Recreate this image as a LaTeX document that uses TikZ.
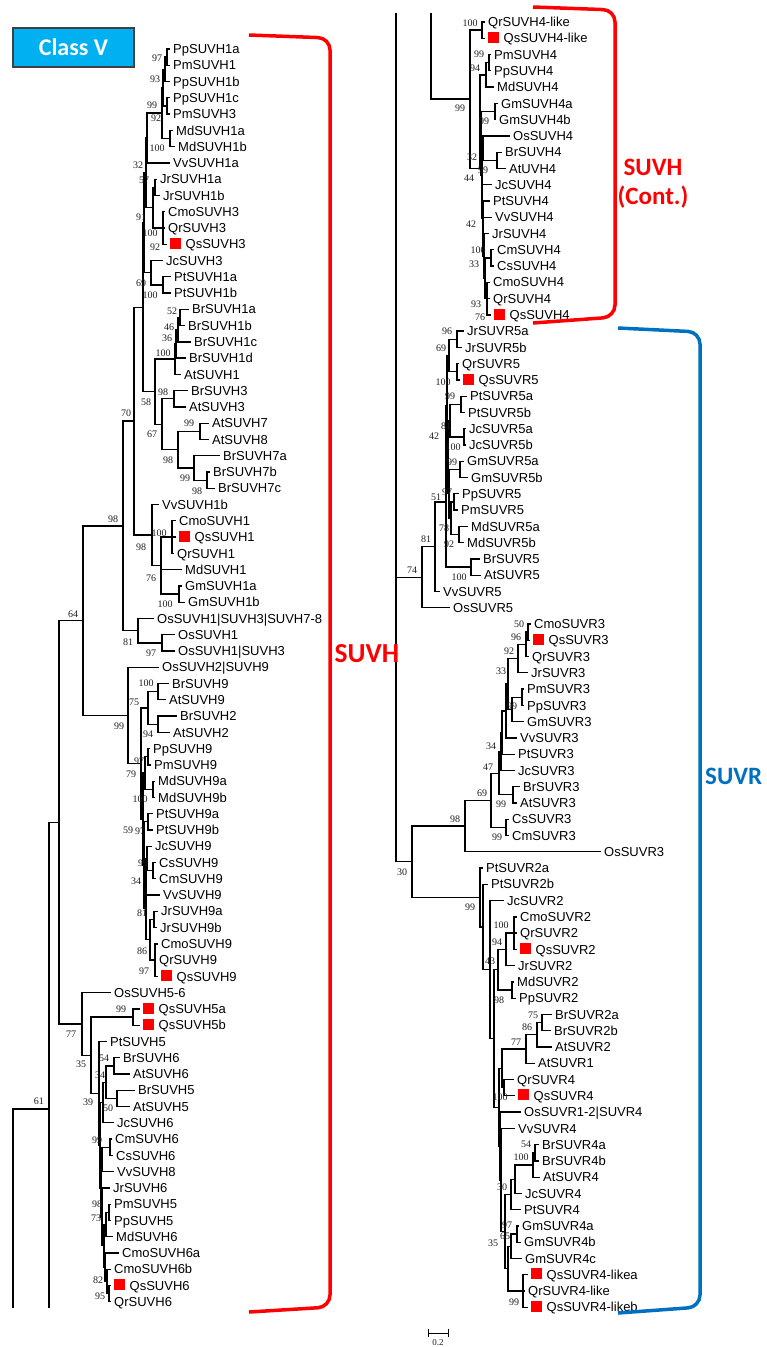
\documentclass[tikz,border=0pt]{standalone}
\usepackage{fontspec}
\setmainfont{Liberation Sans}
\newfontfamily\PBsFont{Liberation Serif}
\newfontfamily\PCal{Carlito}
\definecolor{qred}{RGB}{255,0,0}
\definecolor{suvrblue}{RGB}{0,112,192}
\definecolor{classcyan}{RGB}{0,176,240}
\newcommand\PLy[1]{32.73+16.27*(#1)}
\newcommand\PRy[1]{5.73+16.27*(#1)}
\newcommand\PQs{\textcolor{qred}{\rule{11pt}{11pt}}\hspace{4.5pt}}
\newcounter{pbsc}
\newcommand\PLleaf[4]{\coordinate (#1) at (#2,{\PLy{#3}}); \node[lf] (t#1) at ([xshift=3pt]#1) {#4};}
\newcommand\PRleaf[4]{\coordinate (#1) at (#2,{\PRy{#3}}); \node[lf] (t#1) at ([xshift=3pt]#1) {#4};}
\newcommand\PLnode[3]{\coordinate (#1) at (#2,{\PLy{#3}});}
\newcommand\PRnode[3]{\coordinate (#1) at (#2,{\PRy{#3}});}
\newcommand\PKids[2]{\foreach \kid in {#2}{\draw[br] (#1) |- (\kid);}}
\newcommand\PBs[3]{\stepcounter{pbsc}\node[bsl] (bs\arabic{pbsc}) at (#1,#2) {#3};}
\begin{document}
\begin{tikzpicture}[x=1pt,y=-1pt,
  br/.style={line width=1.3pt, black},
  lf/.style={anchor=west, inner sep=0pt, text height=9.3pt, text depth=0pt, font=\fontsize{13}{13}\selectfont},
  bsl/.style={inner sep=0pt, font=\PBsFont\fontsize{10}{10}\selectfont, text=black!88},
  bigred/.style={text=qred, inner sep=0pt, anchor=base},
  bracket/.style={line width=3.5pt, rounded corners=12pt}]
\useasboundingbox (0,0) rectangle (766,1347);

% ---------- Class V box ----------
\node[draw=black!75, line width=1.2pt, fill=classcyan, text=white, font=\PCal\bfseries\fontsize{24}{24}\selectfont, minimum width=121pt, minimum height=39pt, inner sep=0pt] (classv) at (73.5,47.5) {Class V};

% ---------- LEFT leaves ----------
\PLleaf{L1}{170}{1}{PpSUVH1a}
\PLleaf{L2}{170}{2}{PmSUVH1}
\PLleaf{L3}{170}{3}{PpSUVH1b}
\PLleaf{L4}{170}{4}{PpSUVH1c}
\PLleaf{L5}{170}{5}{PmSUVH3}
\PLleaf{L6}{173}{6}{MdSUVH1a}
\PLleaf{L7}{175}{7}{MdSUVH1b}
\PLleaf{L8}{170}{8}{VvSUVH1a}
\PLleaf{L9}{157}{9}{JrSUVH1a}
\PLleaf{L10}{160}{10}{JrSUVH1b}
\PLleaf{L11}{165}{11}{CmoSUVH3}
\PLleaf{L12}{165}{12}{QrSUVH3}
\PLleaf{L13}{167}{13}{\PQs QsSUVH3}
\PLleaf{L14}{163}{14}{JcSUVH3}
\PLleaf{L15}{171}{15}{PtSUVH1a}
\PLleaf{L16}{171}{16}{PtSUVH1b}
\PLleaf{L17}{189}{17}{BrSUVH1a}
\PLleaf{L18}{185}{18}{BrSUVH1b}
\PLleaf{L19}{191}{19}{BrSUVH1c}
\PLleaf{L20}{186}{20}{BrSUVH1d}
\PLleaf{L21}{181}{21}{AtSUVH1}
\PLleaf{L22}{188}{22}{BrSUVH3}
\PLleaf{L23}{186}{23}{AtSUVH3}
\PLleaf{L24}{209}{24}{AtSUVH7}
\PLleaf{L25}{209}{25}{AtSUVH8}
\PLleaf{L26}{220}{26}{BrSUVH7a}
\PLleaf{L27}{210}{27}{BrSUVH7b}
\PLleaf{L28}{215}{28}{BrSUVH7c}
\PLleaf{L29}{159}{29}{VvSUVH1b}
\PLleaf{L30}{176}{30}{CmoSUVH1}
\PLleaf{L31}{176}{31}{\PQs QsSUVH1}
\PLleaf{L32}{174}{32}{QrSUVH1}
\PLleaf{L33}{182}{33}{MdSUVH1}
\PLleaf{L34}{182}{34}{GmSUVH1a}
\PLleaf{L35}{185}{35}{GmSUVH1b}
\PLleaf{L36}{154}{36}{OsSUVH1|SUVH3|SUVH7-8}
\PLleaf{L37}{175}{37}{OsSUVH1}
\PLleaf{L38}{175}{38}{OsSUVH1|SUVH3}
\PLleaf{L39}{159}{39}{OsSUVH2|SUVH9}
\PLleaf{L40}{169}{40}{BrSUVH9}
\PLleaf{L41}{166}{41}{AtSUVH9}
\PLleaf{L42}{177}{42}{BrSUVH2}
\PLleaf{L43}{170}{43}{AtSUVH2}
\PLleaf{L44}{150}{44}{PpSUVH9}
\PLleaf{L45}{151}{45}{PmSUVH9}
\PLleaf{L46}{155}{46}{MdSUVH9a}
\PLleaf{L47}{155}{47}{MdSUVH9b}
\PLleaf{L48}{153}{48}{PtSUVH9a}
\PLleaf{L49}{153}{49}{PtSUVH9b}
\PLleaf{L50}{152}{50}{JcSUVH9}
\PLleaf{L51}{156}{51}{CsSUVH9}
\PLleaf{L52}{156}{52}{CmSUVH9}
\PLleaf{L53}{160}{53}{VvSUVH9}
\PLleaf{L54}{158}{54}{JrSUVH9a}
\PLleaf{L55}{157}{55}{JrSUVH9b}
\PLleaf{L56}{158}{56}{CmoSUVH9}
\PLleaf{L57}{156}{57}{QrSUVH9}
\PLleaf{L58}{158}{58}{\PQs QsSUVH9}
\PLleaf{L59}{111}{59}{OsSUVH5-6}
\PLleaf{L60}{140}{60}{\PQs QsSUVH5a}
\PLleaf{L61}{140}{61}{\PQs QsSUVH5b}
\PLleaf{L62}{107}{62}{PtSUVH5}
\PLleaf{L63}{120}{63}{BrSUVH6}
\PLleaf{L64}{130}{64}{AtSUVH6}
\PLleaf{L65}{135}{65}{BrSUVH5}
\PLleaf{L66}{130}{66}{AtSUVH5}
\PLleaf{L67}{114}{67}{JcSUVH6}
\PLleaf{L68}{112}{68}{CmSUVH6}
\PLleaf{L69}{113}{69}{CsSUVH6}
\PLleaf{L70}{114}{70}{VvSUVH8}
\PLleaf{L71}{110}{71}{JrSUVH6}
\PLleaf{L72}{111}{72}{PmSUVH5}
\PLleaf{L73}{111}{73}{PpSUVH5}
\PLleaf{L74}{113}{74}{MdSUVH6}
\PLleaf{L75}{119}{75}{CmoSUVH6a}
\PLleaf{L76}{111}{76}{CmoSUVH6b}
\PLleaf{L77}{111}{77}{\PQs QsSUVH6}
\PLleaf{L78}{111}{78}{QrSUVH6}

% ---------- LEFT internal nodes ----------
\PLnode{nP97}{167}{1.5}
\PLnode{nP93}{165}{2.25}
\PLnode{nP92}{167}{4.5}
\PLnode{nPP}{163}{3.375}
\PLnode{nMd}{170}{6.5}
\PLnode{nA}{162}{4.94}
\PLnode{n32}{147}{6.47}
\PLnode{nJr}{155}{9.5}
\PLnode{nQ3}{163}{12}
\PLnode{nJrQ}{153}{10.75}
\PLnode{nB}{146}{8.61}
\PLnode{nPt}{163}{15.5}
\PLnode{nJcPt}{151}{14.75}
\PLnode{nC}{144}{11.68}
\PLnode{nBr52}{180}{17.5}
\PLnode{nBr46}{178}{18.25}
\PLnode{nBr36}{176}{19.125}
\PLnode{nBr1}{175}{20.06}
\PLnode{nBA3}{174}{22.5}
\PLnode{nAt78}{200}{24.5}
\PLnode{nBr7bc}{207}{27.5}
\PLnode{nBr7}{194}{26.75}
\PLnode{n98s}{178}{25.625}
\PLnode{n67}{162}{24.06}
\PLnode{n58}{155}{22.06}
\PLnode{nD}{143}{16.87}
\PLnode{nQ1}{172}{31}
\PLnode{nGm}{179}{34.5}
\PLnode{nX}{161}{32.75}
\PLnode{n98v}{152}{30.875}
\PLnode{n70}{134}{23.87}
\PLnode{nOs1}{162}{37.5}
\PLnode{n81}{138}{36.75}
\PLnode{n98}{123}{30.31}
\PLnode{nBA9}{158}{40.5}
\PLnode{nBA2}{158}{42.5}
\PLnode{nBrAt}{148}{41.5}
\PLnode{nPp9}{148}{44.5}
\PLnode{nMd9}{153}{46.5}
\PLnode{nRos}{145}{45.5}
\PLnode{nPt9}{148}{48.5}
\PLnode{nCsCm}{153}{51.5}
\PLnode{nJcCs}{147}{50.75}
\PLnode{nJcVv}{146}{51.875}
\PLnode{nJr9}{154}{54.5}
\PLnode{nQ9}{155}{57}
\PLnode{nJrQ9}{150}{55.75}
\PLnode{nF1}{146}{53.81}
\PLnode{nF2}{144}{51.16}
\PLnode{nF3}{143}{48.33}
\PLnode{nS9}{141}{44.91}
\PLnode{n99}{128}{41.96}
\PLnode{n64}{83}{36.13}
\PLnode{n5a}{133}{60.5}
\PLnode{nBA6}{114}{63.5}
\PLnode{nBA5}{117}{65.5}
\PLnode{nBA}{106}{64.5}
\PLnode{nBAJc}{103}{65.75}
\PLnode{nCC6}{110}{68.5}
\PLnode{nCCV}{102}{69.25}
\PLnode{nPP5}{109}{72.5}
\PLnode{nPPM}{106}{73.25}
\PLnode{nQQ}{109}{77.5}
\PLnode{nCQ}{107}{76.75}
\PLnode{nCmo}{105}{75.875}
\PLnode{nRos6}{104}{74.56}
\PLnode{nJrR}{102}{72.78}
\PLnode{nM1}{101}{71.02}
\PLnode{nM2}{100}{68.38}
\PLnode{nM3}{99}{65.19}
\PLnode{n35}{91}{62.84}
\PLnode{n77}{82}{60.92}
\PLnode{n59}{59}{48.52}
\coordinate (n49) at (49,1109);
\coordinate (nLb49) at (49,1308);
\coordinate (nLb13) at (13,1308);

% ---------- LEFT edges ----------
\PKids{nP97}{L1,L2}
\PKids{nP93}{nP97,L3}
\PKids{nP92}{L4,L5}
\PKids{nPP}{nP93,nP92}
\PKids{nMd}{L6,L7}
\PKids{nA}{nPP,nMd}
\PKids{n32}{nA,L8}
\PKids{nJr}{L9,L10}
\PKids{nQ3}{L11,L12,L13}
\PKids{nJrQ}{nJr,nQ3}
\PKids{nB}{n32,nJrQ}
\PKids{nPt}{L15,L16}
\PKids{nJcPt}{L14,nPt}
\PKids{nC}{nB,nJcPt}
\PKids{nBr52}{L17,L18}
\PKids{nBr46}{nBr52,L19}
\PKids{nBr36}{nBr46,L20}
\PKids{nBr1}{nBr36,L21}
\PKids{nBA3}{L22,L23}
\PKids{nAt78}{L24,L25}
\PKids{nBr7bc}{L27,L28}
\PKids{nBr7}{L26,nBr7bc}
\PKids{n98s}{nAt78,nBr7}
\PKids{n67}{nBA3,n98s}
\PKids{n58}{nBr1,n67}
\PKids{nD}{nC,n58}
\PKids{nQ1}{L30,L31,L32}
\PKids{nGm}{L34,L35}
\PKids{nX}{nQ1,L33,nGm}
\PKids{n98v}{L29,nX}
\PKids{n70}{nD,n98v}
\PKids{nOs1}{L37,L38}
\PKids{n81}{L36,nOs1}
\PKids{n98}{n70,n81}
\PKids{nBA9}{L40,L41}
\PKids{nBA2}{L42,L43}
\PKids{nBrAt}{nBA9,nBA2}
\PKids{nPp9}{L44,L45}
\PKids{nMd9}{L46,L47}
\PKids{nRos}{nPp9,nMd9}
\PKids{nPt9}{L48,L49}
\PKids{nCsCm}{L51,L52}
\PKids{nJcCs}{L50,nCsCm}
\PKids{nJcVv}{nJcCs,L53}
\PKids{nJr9}{L54,L55}
\PKids{nQ9}{L56,L57,L58}
\PKids{nJrQ9}{nJr9,nQ9}
\PKids{nF1}{nJcVv,nJrQ9}
\PKids{nF2}{nPt9,nF1}
\PKids{nF3}{nRos,nF2}
\PKids{nS9}{nBrAt,nF3}
\PKids{n99}{L39,nS9}
\PKids{n64}{n98,n99}
\PKids{n5a}{L60,L61}
\PKids{nBA6}{L63,L64}
\PKids{nBA5}{L65,L66}
\PKids{nBA}{nBA6,nBA5}
\PKids{nBAJc}{nBA,L67}
\PKids{nCC6}{L68,L69}
\PKids{nCCV}{nCC6,L70}
\PKids{nPP5}{L72,L73}
\PKids{nPPM}{nPP5,L74}
\PKids{nQQ}{L77,L78}
\PKids{nCQ}{L76,nQQ}
\PKids{nCmo}{L75,nCQ}
\PKids{nRos6}{nPPM,nCmo}
\PKids{nJrR}{L71,nRos6}
\PKids{nM1}{nCCV,nJrR}
\PKids{nM2}{nBAJc,nM1}
\PKids{nM3}{L62,nM2}
\PKids{n35}{n5a,nM3}
\PKids{n77}{L59,n35}
\PKids{n59}{n64,n77}
\PKids{nLb49}{n59}
\PKids{nLb13}{n49}

% ---------- RIGHT leaves ----------
\PRleaf{R1}{485}{1}{QrSUVH4-like}
\PRleaf{R2}{485}{2}{\PQs QsSUVH4-like}
\PRleaf{R3}{491}{3}{PmSUVH4}
\PRleaf{R4}{491}{4}{PpSUVH4}
\PRleaf{R5}{494}{5}{MdSUVH4}
\PRleaf{R6}{498}{6}{GmSUVH4a}
\PRleaf{R7}{496}{7}{GmSUVH4b}
\PRleaf{R8}{510}{8}{OsSUVH4}
\PRleaf{R9}{502}{9}{BrSUVH4}
\PRleaf{R10}{506}{10}{AtUVH4}
\PRleaf{R11}{492}{11}{JcSUVH4}
\PRleaf{R12}{490}{12}{PtSUVH4}
\PRleaf{R13}{492}{13}{VvSUVH4}
\PRleaf{R14}{489}{14}{JrSUVH4}
\PRleaf{R15}{494}{15}{CmSUVH4}
\PRleaf{R16}{494}{16}{CsSUVH4}
\PRleaf{R17}{490}{17}{CmoSUVH4}
\PRleaf{R18}{490}{18}{QrSUVH4}
\PRleaf{R19}{491}{19}{\PQs QsSUVH4}
\PRleaf{R20}{464}{20}{JrSUVR5a}
\PRleaf{R21}{462}{21}{JrSUVR5b}
\PRleaf{R22}{459}{22}{QrSUVR5}
\PRleaf{R23}{460}{23}{\PQs QsSUVR5}
\PRleaf{R24}{467}{24}{PtSUVR5a}
\PRleaf{R25}{465}{25}{PtSUVR5b}
\PRleaf{R26}{466}{26}{JcSUVR5a}
\PRleaf{R27}{466}{27}{JcSUVR5b}
\PRleaf{R28}{464}{28}{GmSUVR5a}
\PRleaf{R29}{468}{29}{GmSUVR5b}
\PRleaf{R30}{459}{30}{PpSUVR5}
\PRleaf{R31}{458}{31}{PmSUVR5}
\PRleaf{R32}{468}{32}{MdSUVR5a}
\PRleaf{R33}{464}{33}{MdSUVR5b}
\PRleaf{R34}{480}{34}{BrSUVR5}
\PRleaf{R35}{481}{35}{AtSUVR5}
\PRleaf{R36}{440}{36}{VvSUVR5}
\PRleaf{R37}{450}{37}{OsSUVR5}
\PRleaf{R38}{531}{38}{CmoSUVR3}
\PRleaf{R39}{530}{39}{\PQs QsSUVR3}
\PRleaf{R40}{529}{40}{QrSUVR3}
\PRleaf{R41}{528}{41}{JrSUVR3}
\PRleaf{R42}{524}{42}{PmSUVR3}
\PRleaf{R43}{524}{43}{PpSUVR3}
\PRleaf{R44}{524}{44}{GmSUVR3}
\PRleaf{R45}{517}{45}{VvSUVR3}
\PRleaf{R46}{515}{46}{PtSUVR3}
\PRleaf{R47}{515}{47}{JcSUVR3}
\PRleaf{R48}{520}{48}{BrSUVR3}
\PRleaf{R49}{517}{49}{AtSUVR3}
\PRleaf{R50}{509}{50}{CsSUVR3}
\PRleaf{R51}{509}{51}{CmSUVR3}
\PRleaf{R52}{601}{52}{OsSUVR3}
\PRleaf{R53}{483}{53}{PtSUVR2a}
\PRleaf{R54}{488}{54}{PtSUVR2b}
\PRleaf{R55}{504}{55}{JcSUVR2}
\PRleaf{R56}{517}{56}{CmoSUVR2}
\PRleaf{R57}{517}{57}{QrSUVR2}
\PRleaf{R58}{517}{58}{\PQs QsSUVR2}
\PRleaf{R59}{515}{59}{JrSUVR2}
\PRleaf{R60}{514}{60}{MdSUVR2}
\PRleaf{R61}{516}{61}{PpSUVR2}
\PRleaf{R62}{552}{62}{BrSUVR2a}
\PRleaf{R63}{551}{63}{BrSUVR2b}
\PRleaf{R64}{552}{64}{AtSUVR2}
\PRleaf{R65}{535}{65}{AtSUVR1}
\PRleaf{R66}{514}{66}{QrSUVR4}
\PRleaf{R67}{515}{67}{\PQs QsSUVR4}
\PRleaf{R68}{521}{68}{OsSUVR1-2|SUVR4}
\PRleaf{R69}{515}{69}{VvSUVR4}
\PRleaf{R70}{539}{70}{BrSUVR4a}
\PRleaf{R71}{539}{71}{BrSUVR4b}
\PRleaf{R72}{540}{72}{AtSUVR4}
\PRleaf{R73}{522}{73}{JcSUVR4}
\PRleaf{R74}{521}{74}{PtSUVR4}
\PRleaf{R75}{519}{75}{GmSUVR4a}
\PRleaf{R76}{521}{76}{GmSUVR4b}
\PRleaf{R77}{522}{77}{GmSUVR4c}
\PRleaf{R78}{528}{78}{\PQs QsSUVR4-likea}
\PRleaf{R79}{525}{79}{QrSUVR4-like}
\PRleaf{R80}{528}{80}{\PQs QsSUVR4-likeb}

% ---------- RIGHT internal nodes ----------
\PRnode{nQL}{482}{1.5}
\PRnode{nPmPp}{489}{3.5}
\PRnode{nPPM4}{486}{4.25}
\PRnode{nGm4r}{495}{6.5}
\PRnode{nBA4}{497}{9.5}
\PRnode{nOsBA}{483}{8.75}
\PRnode{nCC4}{491}{15.5}
\PRnode{nQ4}{487}{18}
\PRnode{nCCQ}{485}{16.75}
\PRnode{nJrC}{484}{15.375}
\PRnode{nVvJ}{483}{14.19}
\PRnode{nPtV}{483}{13.09}
\PRnode{nJcP}{482}{12.05}
\PRnode{nG1}{482}{10.4}
\PRnode{nG2}{481}{8.45}
\PRnode{nG3}{480}{10}
\PRnode{n99r4}{470}{5.73}
\PRnode{nJr5}{457}{20.5}
\PRnode{nQ5}{457}{22.5}
\PRnode{nJQ5}{449}{21.5}
\PRnode{nPt5r}{461}{24.5}
\PRnode{nJc5}{464}{26.5}
\PRnode{nPJ5}{450}{25.5}
\PRnode{nGm5}{460}{28.5}
\PRnode{nPP5r}{454}{30.5}
\PRnode{nMd5}{459}{32.5}
\PRnode{nRos5}{451}{31.5}
\PRnode{nK1}{449}{30}
\PRnode{nK2}{448}{27.75}
\PRnode{nK3}{447}{24.6}
\PRnode{nBA5r}{471}{34.5}
\PRnode{n51}{446}{30.5}
\PRnode{n81r}{435}{33.25}
\PRnode{n74r}{422}{35.125}
\PRnode{nCQs}{528}{38.5}
\PRnode{nQ3r}{526}{39.25}
\PRnode{nJrQ3}{518}{40.125}
\PRnode{nPP3}{522}{42.5}
\PRnode{nR3}{512}{43.25}
\PRnode{nR3b}{508}{41.69}
\PRnode{nR3c}{506}{43.34}
\PRnode{nR3d}{502}{44.67}
\PRnode{nR3e}{501}{45.84}
\PRnode{nBA3r}{513}{48.5}
\PRnode{nR3f}{499}{47.17}
\PRnode{nCC3}{506}{50.5}
\PRnode{n69r}{491}{48.84}
\PRnode{n98r}{465}{50.42}
\PRnode{nQ2}{514}{57}
\PRnode{nQJ2}{506}{58}
\PRnode{nMP2}{512}{60.5}
\PRnode{nE1}{498}{59.25}
\PRnode{nBr2}{542}{62.5}
\PRnode{nBA2r}{537}{63.25}
\PRnode{nAt1}{526}{64.125}
\PRnode{nQ4r}{504}{66.5}
\PRnode{nAtQ}{502}{65.31}
\PRnode{nBr4ab}{535}{70.5}
\PRnode{nBA4r}{533}{71.25}
\PRnode{nJc4r}{515}{72.125}
\PRnode{nPt4r}{511}{73.06}
\PRnode{nGm4ab}{517}{75.5}
\PRnode{nGm4}{511}{76.25}
\PRnode{nQL4}{523}{79}
\PRnode{nF1r}{508}{77.625}
\PRnode{nR2h}{505}{75.34}
\PRnode{nR2g}{501}{72.17}
\PRnode{nR2f}{500}{70.09}
\PRnode{nR2e}{499}{67.7}
\PRnode{nR2d}{494}{63.47}
\PRnode{nR2c}{490}{59.24}
\PRnode{nR2b}{483}{56.62}
\PRnode{nR2a}{480}{54.81}
\PRnode{n30r}{412}{52.6}
\coordinate (nRt13) at (396,13);
\coordinate (nRt49) at (431,13);

% ---------- RIGHT edges ----------
\PKids{nQL}{R1,R2}
\PKids{nPmPp}{R3,R4}
\PKids{nPPM4}{nPmPp,R5}
\PKids{nGm4r}{R6,R7}
\PKids{nBA4}{R9,R10}
\PKids{nOsBA}{R8,nBA4}
\PKids{nCC4}{R15,R16}
\PKids{nQ4}{R17,R18,R19}
\PKids{nCCQ}{nCC4,nQ4}
\PKids{nJrC}{R14,nCCQ}
\PKids{nVvJ}{R13,nJrC}
\PKids{nPtV}{R12,nVvJ}
\PKids{nJcP}{R11,nPtV}
\PKids{nG1}{nOsBA,nJcP}
\PKids{nG2}{nGm4r,nG1}
\PKids{nG3}{nPPM4,nG2}
\PKids{n99r4}{nQL,nG3}
\PKids{nRt49}{n99r4}
\PKids{nJr5}{R20,R21}
\PKids{nQ5}{R22,R23}
\PKids{nJQ5}{nJr5,nQ5}
\PKids{nPt5r}{R24,R25}
\PKids{nJc5}{R26,R27}
\PKids{nPJ5}{nPt5r,nJc5}
\PKids{nGm5}{R28,R29}
\PKids{nPP5r}{R30,R31}
\PKids{nMd5}{R32,R33}
\PKids{nRos5}{nPP5r,nMd5}
\PKids{nK1}{nGm5,nRos5}
\PKids{nK2}{nPJ5,nK1}
\PKids{nK3}{nJQ5,nK2}
\PKids{nBA5r}{R34,R35}
\PKids{n51}{nK3,nBA5r}
\PKids{n81r}{n51,R36}
\PKids{n74r}{n81r,R37}
\PKids{nCQs}{R38,R39}
\PKids{nQ3r}{nCQs,R40}
\PKids{nJrQ3}{nQ3r,R41}
\PKids{nPP3}{R42,R43}
\PKids{nR3}{nPP3,R44}
\PKids{nR3b}{nJrQ3,nR3}
\PKids{nR3c}{nR3b,R45}
\PKids{nR3d}{nR3c,R46}
\PKids{nR3e}{nR3d,R47}
\PKids{nBA3r}{R48,R49}
\PKids{nR3f}{nR3e,nBA3r}
\PKids{nCC3}{R50,R51}
\PKids{n69r}{nR3f,nCC3}
\PKids{n98r}{n69r,R52}
\PKids{nQ2}{R56,R57,R58}
\PKids{nQJ2}{nQ2,R59}
\PKids{nMP2}{R60,R61}
\PKids{nE1}{nQJ2,nMP2}
\PKids{nBr2}{R62,R63}
\PKids{nBA2r}{nBr2,R64}
\PKids{nAt1}{nBA2r,R65}
\PKids{nQ4r}{R66,R67}
\PKids{nAtQ}{nAt1,nQ4r}
\PKids{nBr4ab}{R70,R71}
\PKids{nBA4r}{nBr4ab,R72}
\PKids{nJc4r}{nBA4r,R73}
\PKids{nPt4r}{nJc4r,R74}
\PKids{nGm4ab}{R75,R76}
\PKids{nGm4}{nGm4ab,R77}
\PKids{nQL4}{R78,R79,R80}
\PKids{nF1r}{nGm4,nQL4}
\PKids{nR2h}{nPt4r,nF1r}
\PKids{nR2g}{R69,nR2h}
\PKids{nR2f}{R68,nR2g}
\PKids{nR2e}{nAtQ,nR2f}
\PKids{nR2d}{nE1,nR2e}
\PKids{nR2c}{R55,nR2d}
\PKids{nR2b}{R54,nR2c}
\PKids{nR2a}{R53,nR2b}
\PKids{n30r}{n98r,nR2a}
\PKids{nRt13}{n74r,n30r}

% ---------- bootstrap values, left ----------
\PBs{157}{58}{97}
\PBs{155}{79}{93}
\PBs{152}{105}{99}
\PBs{156}{118}{92}
\PBs{157}{148}{100}
\PBs{138}{165}{32}
\PBs{144}{180}{57}
\PBs{141}{217}{91}
\PBs{150}{233}{100}
\PBs{155}{247}{92}
\PBs{141}{283}{69}
\PBs{150}{295}{100}
\PBs{172}{311}{52}
\PBs{169}{327}{46}
\PBs{167}{338}{36}
\PBs{163}{353}{100}
\PBs{163}{392}{98}
\PBs{146}{402}{58}
\PBs{126}{413}{70}
\PBs{152}{434}{67}
\PBs{189}{423}{99}
\PBs{168}{460}{98}
\PBs{185}{478}{99}
\PBs{197}{491}{98}
\PBs{113}{519}{98}
\PBs{159}{533}{100}
\PBs{141}{547}{98}
\PBs{151}{578}{76}
\PBs{165}{604}{100}
\PBs{73}{614}{64}
\PBs{128}{642}{81}
\PBs{151}{653}{97}
\PBs{146}{683}{100}
\PBs{134}{702}{75}
\PBs{119}{726}{99}
\PBs{148}{734}{94}
\PBs{139}{761}{97}
\PBs{131}{774}{79}
\PBs{140}{799}{100}
\PBs{128}{830}{59}
\PBs{140}{831}{97}
\PBs{143}{863}{99}
\PBs{136}{881}{34}
\PBs{142}{913}{81}
\PBs{142}{951}{86}
\PBs{144}{971}{97}
\PBs{121}{1009}{99}
\PBs{71}{1034}{77}
\PBs{104}{1058}{54}
\PBs{81}{1064}{35}
\PBs{100}{1075}{34}
\PBs{88}{1102}{39}
\PBs{108}{1108}{50}
\PBs{39}{1101}{61}
\PBs{97}{1140}{99}
\PBs{97}{1204}{98}
\PBs{96}{1218}{73}
\PBs{98}{1280}{82}
\PBs{100}{1296}{95}

% ---------- bootstrap values, right ----------
\PBs{470}{23}{100}
\PBs{479}{54}{99}
\PBs{475}{68}{94}
\PBs{460}{108}{99}
\PBs{484}{121}{99}
\PBs{472}{157}{32}
\PBs{483}{170}{99}
\PBs{469}{178}{44}
\PBs{471}{224}{42}
\PBs{478}{250}{100}
\PBs{474}{264}{33}
\PBs{476}{304}{93}
\PBs{480}{317}{76}
\PBs{447}{331}{96}
\PBs{441}{348}{69}
\PBs{443}{382}{100}
\PBs{450}{396}{99}
\PBs{434}{436}{42}
\PBs{446}{426}{81}
\PBs{453}{447}{100}
\PBs{452}{462}{99}
\PBs{436}{497}{51}
\PBs{447}{492}{97}
\PBs{444}{528}{78}
\PBs{426}{539}{81}
\PBs{449}{544}{92}
\PBs{412}{570}{74}
\PBs{459}{577}{100}
\PBs{519}{624}{50}
\PBs{516}{637}{96}
\PBs{509}{651}{92}
\PBs{501}{671}{33}
\PBs{512}{706}{99}
\PBs{491}{746}{34}
\PBs{488}{767}{47}
\PBs{482}{793}{69}
\PBs{501}{804}{99}
\PBs{455}{819}{98}
\PBs{497}{837}{99}
\PBs{402}{872}{30}
\PBs{470}{907}{99}
\PBs{501}{925}{100}
\PBs{497}{942}{94}
\PBs{490}{961}{43}
\PBs{499}{1000}{98}
\PBs{533}{1015}{75}
\PBs{527}{1027}{86}
\PBs{516}{1042}{77}
\PBs{500}{1097}{100}
\PBs{526}{1144}{54}
\PBs{521}{1157}{100}
\PBs{502}{1187}{30}
\PBs{507}{1225}{97}
\PBs{505}{1236}{65}
\PBs{493}{1243}{35}
\PBs{514}{1302}{99}

% ---------- brackets and group labels ----------
\draw[bracket, qred] (249,35) -- (330,38) -- (330,1307) -- (249,1312);
\draw[bracket, qred] (533,7) -- (615,10) -- (615,317) -- (533,323);
\draw[bracket, suvrblue] (618,328) -- (700,332) -- (700,1307) -- (618,1313);
\node[bigred, font=\PCal\bfseries\fontsize{27.5}{27.5}\selectfont] (suvhL) at (367,662) {SUVH};
\node[bigred, font=\PCal\bfseries\fontsize{25}{25}\selectfont] (suvhR) at (653,175) {SUVH};
\node[bigred, font=\PCal\bfseries\fontsize{25}{25}\selectfont] (contR) at (653,204) {(Cont.)};
\node[text=suvrblue, inner sep=0pt, anchor=base west, font=\PCal\bfseries\fontsize{25}{25}\selectfont] (suvr) at (705,784) {SUVR};

% ---------- scale bar ----------
\coordinate (sb1) at (428,1333);
\coordinate (sb2) at (448,1333);
\draw[line width=1pt] (sb1) -- (sb2);
\draw[line width=1pt] ([yshift=4pt]sb1) -- ([yshift=-4pt]sb1);
\draw[line width=1pt] ([yshift=4pt]sb2) -- ([yshift=-4pt]sb2);
\node[bsl, font=\PBsFont\fontsize{9}{9}\selectfont] (sbl) at (438,1343) {0.2};
\end{tikzpicture}
\end{document}
